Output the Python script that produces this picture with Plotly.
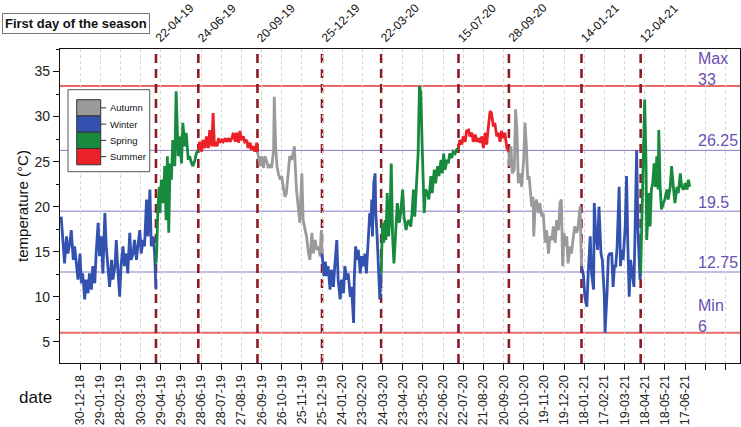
import pandas as pd
import plotly.graph_objects as go

# ---------------- data ----------------
base_date = "2018-12-30"  # day offsets below are counted from this date

winter1_days = [-28,-25,-23,-20,-18,-15,-13,-10,-8,-5,-3,0,2,4,7,9,12,14,17,19,22,24,27,29,32,34,37,39,42,44,47,49,52,54,56,59,61,64,66,69,71,74,76,79,81,84,86,89,91,94,96,99,101,104,106,109,111,113]
winter1_temp = [18.9,16.3,13.7,16.7,14.8,16.0,17.4,14.1,15.6,13.4,11.9,14.8,11.5,12.6,9.7,11.9,10.4,12.6,10.8,13.4,11.5,14.8,18.2,14.5,16.7,12.6,19.3,15.6,13.4,11.1,14.1,11.9,13.4,16.3,13.4,10.0,13.4,15.6,13.4,14.8,12.6,17.1,14.1,14.8,16.3,14.1,15.6,17.4,14.8,16.3,15.6,20.8,16.7,21.9,15.6,16.7,14.8,10.8]

spring1_days = [113,114,116,118,119,121,124,126,128,130,132,134,136,138,141,143,146,148,151,153,156,158,161,163,166,168,171,173,176]
spring1_temp = [13.7,14.8,20.0,22.2,19.3,23.0,20.4,24.5,18.5,25.6,17.1,24.8,23.0,27.4,24.5,32.8,25.6,27.8,24.8,29.3,26.7,28.2,25.2,25.6,24.8,24.5,25.2,25.9,26.3]

summer1_days = [176,178,181,183,186,188,191,193,196,198,200,202,204,206,208,211,213,216,218,221,223,226,228,231,233,236,238,240,243,245,248,250,253,255,258,260,263,264]
summer1_temp = [26.3,27.2,26.1,27.4,26.5,27.8,26.5,28.5,26.7,30.4,26.7,27.2,26.7,27.6,27.1,27.4,27.2,27.6,27.2,27.6,27.2,27.6,28.2,27.2,28.2,27.1,28.4,27.4,27.8,27.2,27.4,26.5,27.1,26.3,26.7,26.1,27.1,26.1]

autumn1_days = [264,265,268,270,273,275,278,280,283,285,288,289,291,293,295,298,300,303,305,307,310,312,315,317,319,320,322,325,327,330,332,335,337,340,342,345,347,350,352,355,357,359,360]
autumn1_temp = [26.1,25.6,24.5,25.6,24.3,25.6,25.0,24.3,24.7,24.3,26.3,32.2,26.7,24.5,23.7,23.0,23.4,21.9,21.1,21.5,24.5,25.6,25.2,25.8,26.7,24.8,21.9,19.7,18.2,23.7,18.5,17.4,16.7,14.8,14.1,17.1,14.8,16.3,15.2,15.6,14.5,17.4,14.8]

winter2_days = [360,363,365,367,369,372,374,377,379,382,384,387,389,392,394,397,399,402,404,407,408,410,412,414,417,419,422,424,426,429,431,433,434,435,437,439,440,442,444,446,448]
winter2_temp = [14.8,12.3,13.9,12.3,13.4,10.8,13.0,11.1,13.4,16.3,11.9,9.7,11.9,10.4,13.4,11.9,12.6,10.0,11.1,7.1,11.9,15.6,14.1,15.2,12.6,14.5,13.4,14.8,12.6,16.0,19.3,17.8,20.8,16.7,22.6,23.7,19.3,16.7,13.4,9.7,12.6]

spring2_days = [448,449,450,452,454,455,457,459,461,463,465,467,470,472,475,477,480,482,485,487,489,492,494,496,498,501,503,505,507,509,511,512,514,517,519,522,524,527,529,532,534,537,539,541,543,546,548,550,553,555,558,560,563]
spring2_temp = [12.6,15.6,18.2,16.0,18.5,16.3,21.5,16.7,18.5,24.8,16.7,13.7,17.1,20.4,18.2,19.3,21.9,18.9,17.4,18.2,18.5,17.8,19.3,21.9,18.9,23.0,25.9,33.4,32.6,26.7,20.0,19.3,21.9,21.5,20.8,23.4,21.5,24.1,22.6,24.5,23.4,25.2,23.7,25.9,24.1,25.2,24.8,25.9,25.4,26.1,25.9,26.3,26.5]

summer2_days = [563,565,568,570,573,575,578,580,583,585,588,590,593,595,598,600,603,605,607,610,612,615,617,620,622,625,627,630,632,635,638]
summer2_temp = [26.5,27.4,26.9,27.8,27.2,28.4,28.5,27.8,28.2,27.2,28.0,27.2,27.6,27.1,27.8,26.5,28.2,26.9,28.5,30.6,30.4,28.9,29.3,27.8,28.2,27.2,28.4,27.6,28.2,26.5,26.1]

autumn2_days = [638,639,641,643,646,648,650,652,655,657,660,662,664,666,668,670,672,674,675,677,679,682,684,687,689,692,694,697,699,702,704,707,709,712,714,716,718,720,722,724,726,729,731,734,736,739,741,744,745,746]
autumn2_temp = [26.1,24.5,26.7,23.7,24.1,30.8,28.5,22.6,23.7,22.2,25.2,29.3,26.7,23.0,23.4,21.1,20.0,21.1,16.7,20.0,20.8,19.3,20.4,18.9,19.3,16.0,17.4,14.8,16.7,16.3,17.8,16.0,18.5,17.4,20.4,20.8,13.4,17.1,15.6,16.7,13.7,15.6,14.8,16.7,17.8,17.1,17.8,20.0,17.4,13.4]

winter3_days = [746,749,751,754,756,759,761,764,765,767,770,772,775,777,780,781,784,786,788,791,793,795,797,799,802,804,806,808,811,813,815,817,819,822,824,826,828,830,832,833,834]
winter3_temp = [13.4,12.3,10.0,8.9,12.6,16.7,12.6,10.8,20.4,17.4,15.2,20.0,14.8,14.1,10.0,6.0,10.4,14.5,14.8,14.8,11.1,13.4,13.4,15.6,22.2,13.4,15.2,14.1,17.8,23.4,15.6,10.0,14.1,11.9,11.1,18.5,26.3,17.4,14.5,11.9,12.6]

spring3_days = [834,836,838,840,842,843,845,846,848,850,852,854,856,858,860,861,863,865,868,870,873,875,878,880,883,885,888,890,893,895,898,900,903,905,907]
spring3_temp = [12.6,19.3,26.7,31.9,24.8,16.3,19.3,21.5,17.8,21.9,22.6,24.8,22.2,25.6,21.9,28.5,22.2,19.7,20.4,20.8,21.9,20.8,22.2,24.5,21.9,20.4,22.2,21.5,23.7,22.2,21.9,22.6,21.9,23.0,22.2]

season_names = ["Autumn", "Winter", "Spring", "Summer"]
season_colors = ["#9a9a9a", "#3352b0", "#178a3e", "#ec2027"]

season_start_dates = ["2019-04-22", "2019-06-24", "2019-09-20", "2019-12-25", "2020-03-22",
                      "2020-07-15", "2020-09-28", "2021-01-14", "2021-04-12"]
season_start_labels = ["22-04-19", "24-06-19", "20-09-19", "25-12-19", "22-03-20",
                       "15-07-20", "28-09-20", "14-01-21", "12-04-21"]

ref_values = [33.4, 26.25, 19.5, 12.75, 6.0]
ref_labels = ["Max<br>33", "26.25", "19.5", "12.75", "Min<br>6"]

tick_labels = ["30-12-18", "29-01-19", "28-02-19", "30-03-19", "29-04-19", "29-05-19", "28-06-19",
               "28-07-19", "27-08-19", "26-09-19", "26-10-19", "25-11-19", "25-12-19", "24-01-20",
               "23-02-20", "24-03-20", "23-04-20", "23-05-20", "22-06-20", "22-07-20", "21-08-20",
               "20-09-20", "20-10-20", "19-11-20", "19-12-20", "18-01-21", "17-02-21", "19-03-21",
               "18-04-21", "18-05-21", "17-06-21", "", ""]
y_ticks = [5, 10, 15, 20, 25, 30, 35]

# ---------------- figure ----------------
color_of = dict(zip(season_names, season_colors))
periods = [
    ("Winter", winter1_days, winter1_temp), ("Spring", spring1_days, spring1_temp),
    ("Summer", summer1_days, summer1_temp), ("Autumn", autumn1_days, autumn1_temp),
    ("Winter", winter2_days, winter2_temp), ("Spring", spring2_days, spring2_temp),
    ("Summer", summer2_days, summer2_temp), ("Autumn", autumn2_days, autumn2_temp),
    ("Winter", winter3_days, winter3_temp), ("Spring", spring3_days, spring3_temp),
]

base = pd.Timestamp(base_date)
fig = go.Figure()
for season, days, temps in periods:
    xs = base + pd.to_timedelta(days, unit="D")
    fig.add_trace(go.Scatter(x=xs, y=temps, mode="lines",
                             line=dict(color=color_of[season], width=2.8),
                             showlegend=False, hoverinfo="skip"))

tick_dates = pd.date_range(base_date, periods=len(tick_labels), freq="30D")

shapes = []
annotations = []

# reference lines
ref_colors = ["#e86a6a", "#8878c8", "#8878c8", "#8878c8", "#e86a6a"]
ref_widths = [2, 1, 1, 1, 2]
ref_shift = [-4, -1, -2, -1, -4]
for v, lab, c, w, s in zip(ref_values, ref_labels, ref_colors, ref_widths, ref_shift):
    shapes.append(dict(type="line", xref="paper", x0=0, x1=1, yref="y", y0=v, y1=v,
                       line=dict(color=c, width=w), layer="between"))
    annotations.append(dict(text=lab, xref="paper", x=0.935, yref="y", y=v,
                            xanchor="left", yanchor="bottom", yshift=s, showarrow=False,
                            align="left", font=dict(size=16, color="#6a50b2")))

# season start lines
for d, lab in zip(season_start_dates, season_start_labels):
    shapes.append(dict(type="line", xref="x", x0=d, x1=d, yref="paper", y0=0, y1=1,
                       line=dict(color="#8c1c24", width=2.6, dash="9px,6px"), layer="between"))
    annotations.append(dict(text=lab, xref="x", x=d, yref="paper", y=1, textangle=-45,
                            xanchor="left", yanchor="bottom", xshift=-6, yshift=1,
                            showarrow=False, font=dict(size=12, color="#111")))

# custom legend (colour blocks)
lx0, lx1, ly0, ly1 = 0.0118, 0.132, 0.6092, 0.8704
shapes.append(dict(type="rect", xref="paper", yref="paper", x0=lx0, x1=lx1, y0=ly0, y1=ly1,
                   fillcolor="white", line=dict(color="#555", width=1), layer="above"))
bx0, bx1 = 0.0246, 0.0599
btop, bh = 0.8385, 0.0518
for i, (name, col) in enumerate(zip(season_names, season_colors)):
    yt = btop - i * bh
    shapes.append(dict(type="rect", xref="paper", yref="paper", x0=bx0, x1=bx1, y0=yt - bh, y1=yt,
                       fillcolor=col, line=dict(color="#333", width=1), layer="above"))
    shapes.append(dict(type="line", xref="paper", yref="paper", x0=bx1, x1=bx1 + 0.008,
                       y0=yt - bh / 2, y1=yt - bh / 2, line=dict(color="#333", width=1), layer="above"))
    annotations.append(dict(text=name, xref="paper", yref="paper", x=bx1 + 0.011, y=yt - bh / 2,
                            xanchor="left", yanchor="middle", showarrow=False,
                            font=dict(size=9.5, color="#111")))

# title box and "date" label
annotations.append(dict(text="<b>First day of the season</b>", xref="paper", yref="paper",
                        x=-0.085, y=1.08, xanchor="left", yanchor="middle", showarrow=False,
                        bordercolor="#777", borderwidth=1, borderpad=2, bgcolor="white",
                        font=dict(size=13, color="#111")))
annotations.append(dict(text="date", xref="paper", yref="paper", x=-0.036, y=-0.11,
                        xanchor="center", yanchor="middle", showarrow=False,
                        font=dict(size=17, color="#111")))

fig.update_layout(
    width=741, height=427,
    margin=dict(l=60, r=1, t=49, b=64, autoexpand=False),
    paper_bgcolor="white", plot_bgcolor="white",
    font=dict(family="Liberation Sans, Arial, sans-serif", color="#111"),
    shapes=shapes, annotations=annotations,
    showlegend=False,
)
fig.update_xaxes(
    type="date", range=["2018-11-30 06:00", "2021-09-06 19:00"], automargin=False,
    tickmode="array", tickvals=tick_dates, ticktext=tick_labels, tickangle=-90,
    ticks="outside", ticklen=6, tickcolor="#111", tickfont=dict(size=12.5, color="#222"),
    showline=True, linecolor="#111", linewidth=1.2, mirror=True,
    showgrid=True, gridcolor="#d2d2d2", griddash="dot", gridwidth=1, zeroline=False,
)
fig.update_yaxes(
    range=[2.65, 37.5], tickmode="array", tickvals=y_ticks, automargin=False,
    ticks="outside", ticklen=6, tickcolor="#111", tickfont=dict(size=14, color="#222"),
    minor=dict(tickmode="linear", tick0=2.5, dtick=5, ticks="outside", ticklen=3, tickcolor="#111", showgrid=False),
    showline=True, linecolor="#111", linewidth=1.2, mirror=True, showgrid=False, zeroline=False,
    title=dict(text="temperature (°C)", font=dict(size=15, color="#111"), standoff=2),
)

fig.write_html("out.html", config={"displayModeBar": False},
               post_script="document.body.style.margin='0';document.body.style.padding='0';")
